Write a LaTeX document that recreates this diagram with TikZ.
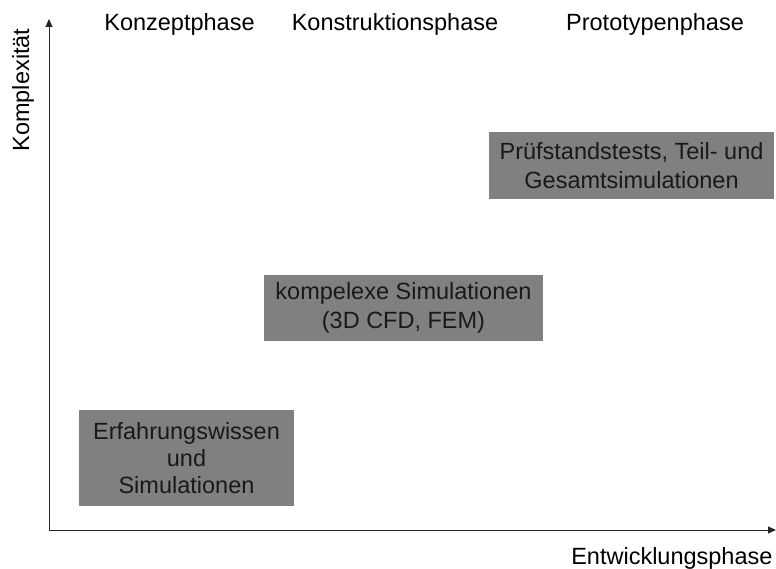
\documentclass[tikz,border=0pt]{standalone}
\usepackage{fontspec}
\setmainfont{Liberation Sans}
\usetikzlibrary{arrows.meta}
\definecolor{boxgray}{HTML}{808080}
\begin{document}
\begin{tikzpicture}[x=1pt,y=-1pt,
	phasebox/.style={fill=boxgray,text=black!90,align=center,inner sep=0pt,font=\fontsize{23.5}{29.5}\selectfont},
	phaselabel/.style={font=\fontsize{23.5}{28.5}\selectfont},
	axis/.style={black!85,line width=1pt,-{Triangle[length=8pt,width=7pt]}}]
	\useasboundingbox (0,0) rectangle (776,569);
	% axes
	\coordinate (origin) at (49,530);
	\coordinate (ytop) at (49,19);
	\coordinate (xend) at (776,530);
	\draw[axis] (origin) -- (ytop);
	\draw[axis] (origin) -- (xend);
	\node[phaselabel,rotate=90] (komplex) at (23,90) {Komplexität};
	\node[phaselabel,anchor=east] (entw) at (776,558) {Entwicklungsphase};
	% phases
	\node[phaselabel] (konzept) at (179.5,24) {Konzeptphase};
	\node[phaselabel] (konstr) at (395,24) {Konstruktionsphase};
	\node[phaselabel] (proto) at (655,24) {Prototypenphase};
	% boxes
	\node[phasebox,minimum width=215pt,minimum height=96pt] (erfahrung) at (186.5,458) {Erfahrungswissen\\[-2.5pt]und\\[-2.5pt]Simulationen};
	\node[phasebox,minimum width=279pt,minimum height=66pt] (simul) at (403.5,308) {kompelexe Simulationen\\(3D CFD, FEM)};
	\node[phasebox,minimum width=285pt,minimum height=67pt] (pruef) at (631.5,165.5) {Prüfstandstests, Teil- und\\Gesamtsimulationen};
\end{tikzpicture}
\end{document}
